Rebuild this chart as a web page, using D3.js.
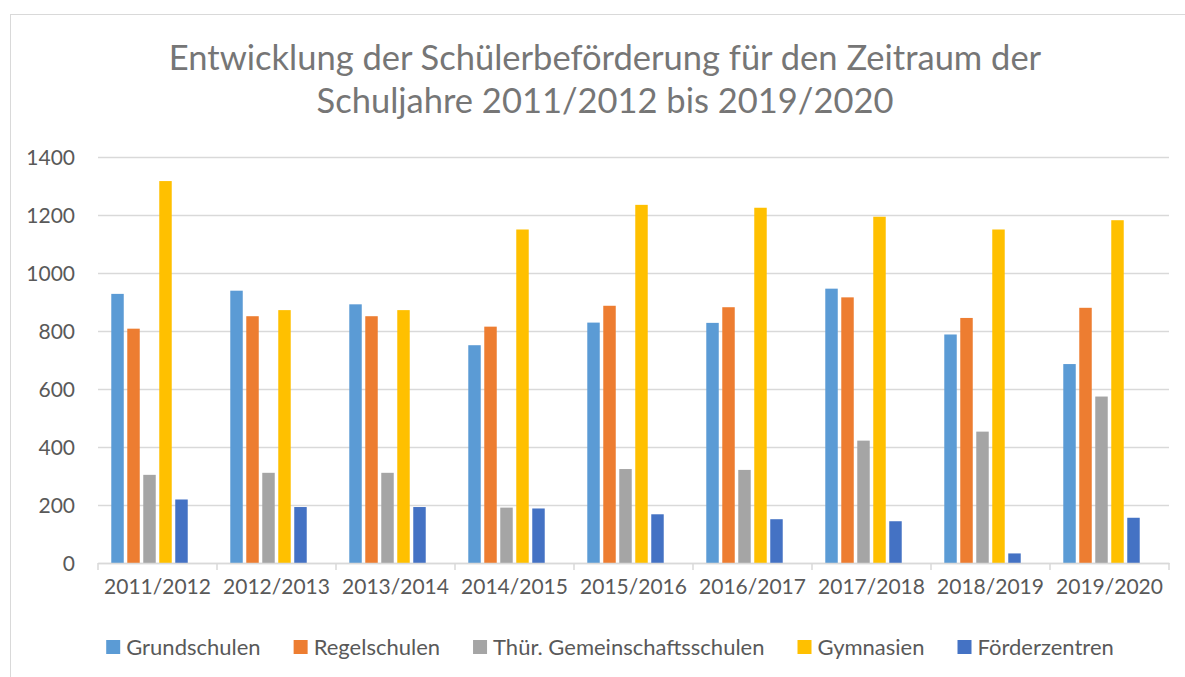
<!DOCTYPE html>
<html>
<head>
    <title>Schülerbeförderung</title>
    <style>
        body {
            margin: 0;
            background: #fff;
        }

        text {
            font-family: Lato, "Open Sans", sans-serif;
        }

        .grid line {
            stroke: #d9d9d9;
            stroke-width: 1.5px;
        }

        .axis-label {
            fill: #595959;
            font-size: 21px;
        }

        .legend-label {
            fill: #595959;
            font-size: 22px;
        }
    </style>
</head>
<body>
    <script src="https://d3js.org/d3.v7.min.js"></script>
    <script>
        // Chart data
        const categories = ["2011/2012", "2012/2013", "2013/2014", "2014/2015", "2015/2016",
            "2016/2017", "2017/2018", "2018/2019", "2019/2020"];
        const seriesNames = ["Grundschulen", "Regelschulen", "Thür. Gemeinschaftsschulen", "Gymnasien", "Förderzentren"];
        const grundschulen = [928, 939, 892, 751, 829, 828, 946, 788, 686];
        const regelschulen = [808, 851, 851, 815, 887, 882, 916, 845, 880];
        const gemeinschaftsschulen = [304, 311, 311, 191, 324, 321, 422, 453, 574];
        const gymnasien = [1317, 872, 872, 1150, 1235, 1225, 1194, 1150, 1182];
        const foerderzentren = [219, 193, 193, 188, 168, 151, 144, 33, 156];
        const yTicks = [0, 200, 400, 600, 800, 1000, 1200, 1400];
        const titleLines = ["Entwicklung der Schülerbeförderung für den Zeitraum der",
            "Schuljahre 2011/2012 bis 2019/2020"];

        const seriesValues = [grundschulen, regelschulen, gemeinschaftsschulen, gymnasien, foerderzentren];
        const colors = ["#5b9bd5", "#ed7d31", "#a5a5a5", "#ffc000", "#4472c4"];

        const width = 1185;
        const height = 677;
        const plot = { left: 98, right: 1169, top: 157, bottom: 563 };

        const svg = d3.select("body")
            .append("svg")
            .attr("width", width)
            .attr("height", height);

        // chart border (runs off the right/bottom edge like in the screenshot)
        svg.append("rect")
            .attr("x", 10.5)
            .attr("y", 14.5)
            .attr("width", 1200)
            .attr("height", 700)
            .attr("fill", "none")
            .attr("stroke", "#d9d9d9");

        // title
        svg.append("text")
            .attr("text-anchor", "middle")
            .attr("fill", "#767676")
            .attr("font-size", 34.5)
            .selectAll("tspan")
            .data(titleLines)
            .join("tspan")
            .attr("x", 605)
            .attr("y", (d, i) => 70 + i * 43)
            .text(d => d);

        // scales
        const x0 = d3.scaleBand()
            .domain(categories)
            .range([plot.left, plot.right]);

        // Excel leaves room for a sixth (empty) slot in each cluster
        const x1 = d3.scaleBand()
            .domain(seriesNames.concat([""]))
            .range([0, x0.bandwidth()])
            .paddingInner(0.22)
            .paddingOuter(0.83);

        const y = d3.scaleLinear()
            .domain([0, 1400])
            .range([plot.bottom, plot.top]);

        // gridlines + y labels
        const yAxis = svg.append("g")
            .attr("class", "grid")
            .attr("transform", `translate(${plot.left},0)`)
            .call(d3.axisLeft(y)
                .tickValues(yTicks)
                .tickFormat(d3.format("d"))
                .tickSize(-(plot.right - plot.left))
                .tickPadding(23));
        yAxis.select(".domain").remove();
        yAxis.selectAll("text")
            .attr("class", "axis-label")
            .attr("dy", "0.36em");

        // bars
        svg.append("g")
            .selectAll("g")
            .data(categories)
            .join("g")
            .attr("transform", d => `translate(${x0(d)},0)`)
            .selectAll("rect")
            .data((d, i) => seriesNames.map((name, s) => ({ name: name, value: seriesValues[s][i], color: colors[s] })))
            .join("rect")
            .attr("x", d => x1(d.name))
            .attr("width", x1.bandwidth())
            .attr("y", d => y(d.value))
            .attr("height", d => y(0) - y(d.value))
            .attr("fill", d => d.color);

        // x axis: line, boundary ticks, centred labels
        const xAxis = svg.append("g")
            .attr("transform", `translate(0,${plot.bottom})`)
            .call(d3.axisBottom(x0).tickSize(0).tickPadding(23));
        xAxis.select(".domain")
            .attr("stroke", "#d9d9d9")
            .attr("stroke-width", 1.5);
        xAxis.selectAll("text")
            .attr("class", "axis-label")
            .attr("dy", "0.36em");

        svg.append("g")
            .selectAll("line")
            .data(categories.concat([null]))
            .join("line")
            .attr("x1", d => d ? x0(d) : plot.right)
            .attr("x2", d => d ? x0(d) : plot.right)
            .attr("y1", plot.bottom)
            .attr("y2", plot.bottom + 7)
            .attr("stroke", "#d9d9d9")
            .attr("stroke-width", 1.5);

        // legend
        const legend = svg.append("g")
            .attr("transform", "translate(0,647)");

        const items = legend.selectAll("g")
            .data(seriesNames)
            .join("g");

        items.append("rect")
            .attr("y", -7)
            .attr("width", 14)
            .attr("height", 14)
            .attr("fill", (d, i) => colors[i]);

        items.append("text")
            .attr("class", "legend-label")
            .attr("x", 20)
            .attr("dy", "0.36em")
            .text(d => d);

        // lay legend items out side by side and centre them
        let offset = 0;
        const positions = [];
        items.each(function () {
            const w = 20 + d3.select(this).select("text").node().getComputedTextLength();
            positions.push(offset);
            offset += w + 33;
        });
        const legendStart = 610 - (offset - 33) / 2;
        items.attr("transform", (d, i) => `translate(${legendStart + positions[i]},0)`);
    </script>
</body>
</html>
